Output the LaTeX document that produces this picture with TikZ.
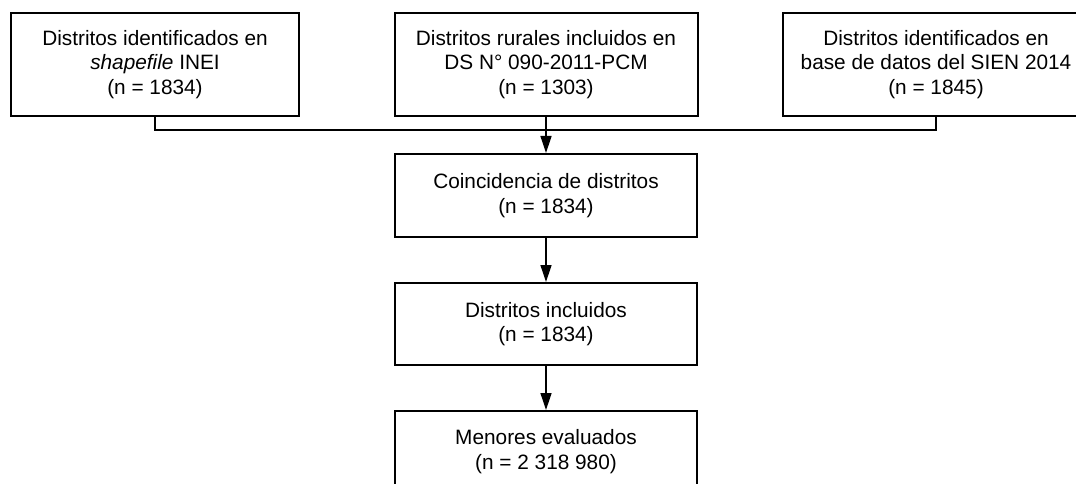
\documentclass[tikz,border=0pt]{standalone}
\usepackage{fontspec}
\setmainfont{Liberation Sans}
\usetikzlibrary{arrows.meta}
\begin{document}
\begin{tikzpicture}[x=1pt,y=-1pt,
  flowbox/.style={draw=black, line width=2pt, fill=white, inner sep=0pt, align=center,
    font=\fontsize{20.8}{24.5}\selectfont},
  link/.style={line width=1.3pt, draw=black},
  arr/.style={link, -{Triangle[length=17pt,width=11pt]}}]
\useasboundingbox (0,0) rectangle (1076,484);
\clip (0,0) rectangle (1076,484);
\fill[white] (0,0) rectangle (1076,484);
\node[flowbox, minimum width=288pt, minimum height=103pt] (b1) at (155,64.5)
  {Distritos identificados en\\\textit{shapefile} INEI\\(n = 1834)};
\node[flowbox, minimum width=303pt, minimum height=103pt] (b2) at (546,64.5)
  {Distritos rurales incluidos en\\DS N° 090-2011-PCM\\(n = 1303)};
\node[flowbox, minimum width=306pt, minimum height=103pt] (b3) at (936,64.5)
  {Distritos identificados en\\base de datos del SIEN 2014\\(n = 1845)};
\node[flowbox, minimum width=302pt, minimum height=83pt] (c) at (546,195.5)
  {Coincidencia de distritos\\(n = 1834)};
\node[flowbox, minimum width=302pt, minimum height=82pt] (i) at (546,324)
  {Distritos incluidos\\(n = 1834)};
\node[flowbox, minimum width=302pt, minimum height=81pt] (m) at (546,451.5)
  {Menores evaluados\\(n = 2 318 980)};
\coordinate (jl) at (155,130);
\coordinate (jr) at (936,130);
\draw[link] (b1.south) -- (jl) -- (jr) -- (b3.south);
\draw[arr] (b2.south) -- (c.north);
\draw[arr] (c.south) -- (i.north);
\draw[arr] (i.south) -- (m.north);
\end{tikzpicture}
\end{document}
